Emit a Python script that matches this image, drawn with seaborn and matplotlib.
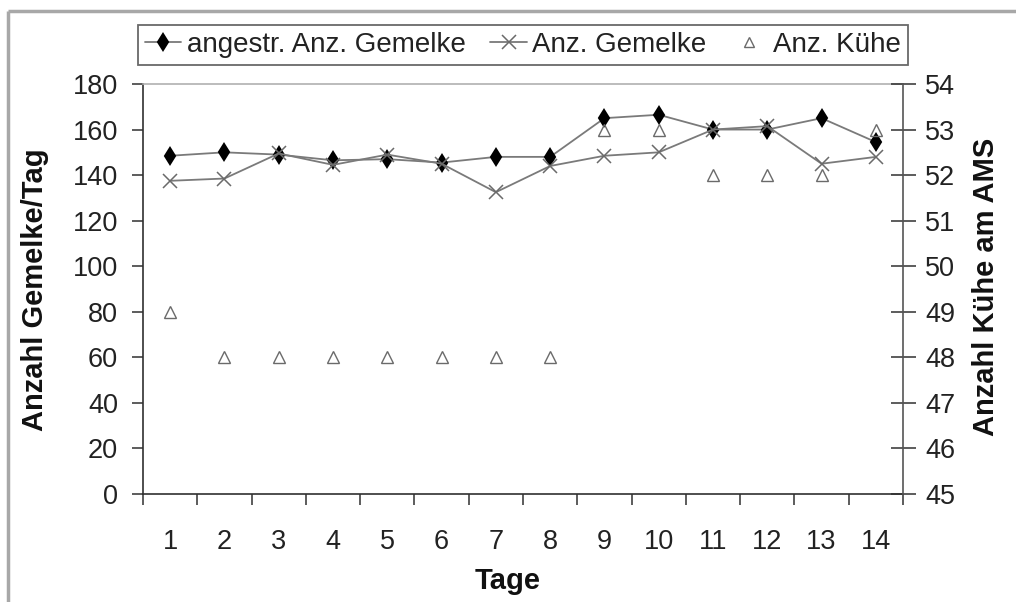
import matplotlib
matplotlib.use("Agg")
import matplotlib.pyplot as plt
from matplotlib.lines import Line2D
import seaborn as sns
import pandas as pd

# Daily milking statistics at the automatic milking system (AMS)
tage = list(range(1, 15))
angestrebte_gemelke = [148.5, 150, 149, 146.5, 147, 145.5, 148, 148, 165, 166.5, 160, 160, 165, 154.5]
gemelke = [137.5, 138.5, 149.5, 144.5, 149, 145, 132.5, 144, 148.5, 150, 160, 161.5, 145, 148]
kuehe = [49, 48, 48, 48, 48, 48, 48, 48, 53, 53, 52, 52, 52, 53]

label_soll = "angestr. Anz. Gemelke"
label_ist = "Anz. Gemelke"
label_kuehe = "Anz. Kühe"

df = pd.DataFrame({"Tag": tage, "soll": angestrebte_gemelke,
                   "ist": gemelke, "kuehe": kuehe})

sns.set_style("white")
plt.rcParams["font.family"] = ["Liberation Sans", "DejaVu Sans"]

W, H = 1016, 602
fig = plt.figure(figsize=(W / 100, H / 100), dpi=100)
fig.patch.set_facecolor("white")

# plot area in pixel coordinates
left, right, top, bottom = 143, 903, 84, 494
ax = fig.add_axes([left / W, 1 - bottom / H, (right - left) / W, (bottom - top) / H])
ax.set_facecolor("white")

line_col = "#7a7a7a"
dark = "#303030"

sns.lineplot(data=df, x="Tag", y="soll", ax=ax, color=line_col, lw=1.3,
             marker="d", markersize=8.5, markerfacecolor="black",
             markeredgecolor="black", markeredgewidth=1.5,
             label=label_soll, legend=False)
sns.lineplot(data=df, x="Tag", y="ist", ax=ax, color=line_col, lw=1.3,
             marker="x", markersize=10, markeredgecolor="#6a6a6a",
             markeredgewidth=1.1, label=label_ist, legend=False)

ax.set_xlim(0.5, 14.5)
ax.set_ylim(0, 180)
ax.set_yticks(range(0, 181, 20))
ax.set_xticks(tage)
ax.set_xticks([t + 0.5 for t in range(0, 15)], minor=True)
ax.tick_params(axis="x", which="major", length=0, pad=25, labelsize=19.5,
               colors="#222222")
ax.tick_params(axis="x", which="minor", length=8, width=1.1, direction="out",
               color=dark, bottom=True)
ax.tick_params(axis="y", length=8, width=1.1, direction="out", color=dark,
               labelsize=19.5, labelcolor="#222222", pad=10, left=True)
ax.set_xlabel("")
ax.set_ylabel("")
ax.grid(False)

for side in ("left", "bottom"):
    ax.spines[side].set_color(dark)
    ax.spines[side].set_linewidth(1.2)
ax.spines["top"].set_color("#b0b0b0")
ax.spines["top"].set_linewidth(1.2)
ax.spines["right"].set_visible(False)

# secondary axis: number of cows at the AMS
ax2 = ax.twinx()
sns.lineplot(data=df, x="Tag", y="kuehe", ax=ax2, linestyle="none",
             marker="^", markersize=8.5, markerfacecolor="none",
             markeredgecolor="#6a6a6a", markeredgewidth=1.0,
             label=label_kuehe, legend=False)
ax2.set_ylim(45, 54)
ax2.set_yticks(range(45, 55))
ax2.set_ylabel("")
ax2.tick_params(axis="y", length=18, width=1.1, direction="inout", color=dark,
                labelsize=19.5, labelcolor="#222222", pad=7, right=True)
for side in ("left", "top", "bottom"):
    ax2.spines[side].set_visible(False)
ax2.spines["right"].set_visible(True)
ax2.spines["right"].set_color("#555555")
ax2.spines["right"].set_linewidth(1.2)
ax2.spines["right"].set_bounds(45, 54)
ax2.grid(False)

# axis titles
fig.text(35 / W, 1 - 290 / H, "Anzahl Gemelke/Tag", rotation=90,
         ha="center", va="center", fontsize=21, fontweight="bold", color="#111111")
fig.text(986 / W, 1 - 287 / H, "Anzahl Kühe am AMS", rotation=90,
         ha="center", va="center", fontsize=21, fontweight="bold", color="#111111")
fig.text(508 / W, 1 - 581 / H, "Tage", ha="center", va="center",
         fontsize=21, fontweight="bold", color="#111111")

# legend in a box across the top
handles = [
    Line2D([], [], color=line_col, lw=1.3, marker="d", markersize=8.5,
           markerfacecolor="black", markeredgecolor="black", markeredgewidth=1.5),
    Line2D([], [], color=line_col, lw=1.3, marker="x", markersize=10,
           markeredgecolor="#6a6a6a", markeredgewidth=1.1),
    Line2D([], [], linestyle="none", marker="^", markersize=7,
           markerfacecolor="none", markeredgecolor="#6a6a6a"),
]
leg = fig.legend(handles, [label_soll, label_ist, label_kuehe], ncol=3,
                 loc="upper left", bbox_to_anchor=(138 / W, 1 - 25 / H),
                 frameon=True, fancybox=False, fontsize=20, borderaxespad=0,
                 borderpad=0.25, handlelength=1.3, handletextpad=0.2,
                 columnspacing=0.9)
frame = leg.get_frame()
frame.set_edgecolor("#444444")
frame.set_linewidth(1.3)
for t in leg.get_texts():
    t.set_color("#222222")

# outer chart border
fig.add_artist(Line2D([8 / W, 1], [1 - 11 / H, 1 - 11 / H],
                      transform=fig.transFigure, color="#a8a8a8", lw=2.5,
                      solid_capstyle="butt"))
fig.add_artist(Line2D([8 / W, 8 / W], [0, 1 - 11 / H],
                      transform=fig.transFigure, color="#a8a8a8", lw=2.5,
                      solid_capstyle="butt"))

fig.savefig("out.png", dpi=100, facecolor="white")
